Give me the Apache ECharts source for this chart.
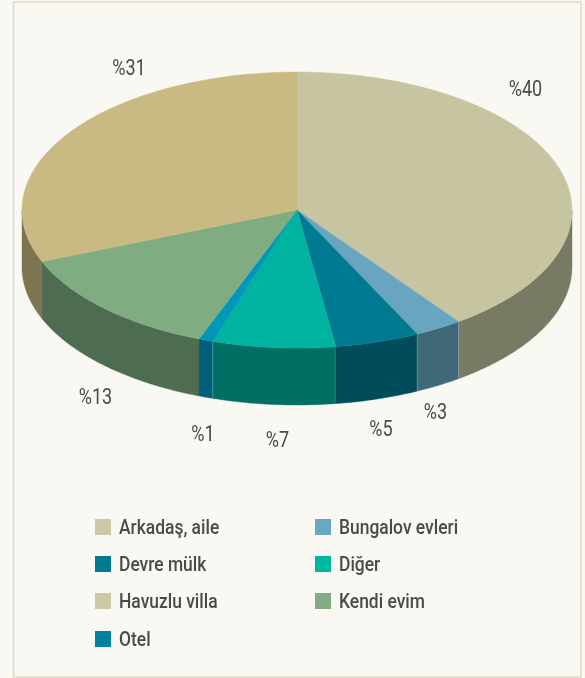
<!DOCTYPE html>
<html><head><meta charset="utf-8">
<style>html,body{margin:0;padding:0;background:#f9f8f3}#c{width:585px;height:678px}</style>
<script src="https://cdn.jsdelivr.net/npm/echarts@6/dist/echarts.min.js"></script>
</head><body><div id="c"></div>
<script>
const categories = ['Arkadaş, aile','Bungalov evleri','Devre mülk','Diğer','Otel','Kendi evim','Havuzlu villa'];
const shares = [40,2.8,4.95,7.2,0.85,13.1,31.1];
const topColors = ['#c7c4a2','#67a5c0','#007a90','#00b2a0','#0098b8','#80ac82','#c8ba82'];
const sideColors = ['#787a63','#3f6878','#004c5a','#006e62','#005f78','#4d6c50','#7d7552'];
const legendColors = ['#ccc8a6','#6aa7c2','#007a90','#00b6a2','#00829a','#80ac82','#ccc8a6'];
const seams = [1,2,4];
const labelPos = [[525.5,90],[435.5,413],[381,430],[277.5,441],[203,435],[95.5,398],[129,69]];
const legendSlots = [[95,519],[315,519],[95,556],[315,556],[95,631],[315,593],[95,593]];

const CX=297, CY=210, RX=275, RY=138, DEPTH=57;
const FONT='"Roboto",sans-serif';
const total = shares.reduce((a,b)=>a+b,0);
const pt=(deg,dy=0)=>{const r=deg*Math.PI/180;return [CX+RX*Math.sin(r),CY-RY*Math.cos(r)+dy];};
const arc=(a,b,dy=0)=>{const n=Math.max(2,Math.ceil(Math.abs(b-a)*2)),o=[];for(let i=0;i<=n;i++)o.push(pt(a+(b-a)*i/n,dy));return o;};

let cum=0;
const series = categories.map((name,i)=>{
  const start=cum/total*360; cum+=shares[i]; const end=cum/total*360;
  return {
    name, type:'custom', coordinateSystem:'none', silent:true, animation:false,
    itemStyle:{color:legendColors[i]},
    data:[[shares[i]]],
    renderItem(){
      const children=[];
      const s=Math.max(start,90), e=Math.min(end,270);
      if(e>s){
        const upper=arc(s,e), lower=arc(e,s,DEPTH);
        children.push({type:'polygon',shape:{points:upper.concat(lower)},
          style:{fill:sideColors[i],stroke:sideColors[i],lineWidth:0.4}});
      }
      children.push({type:'polygon',shape:{points:[[CX,CY]].concat(arc(start,end))},
        style:{fill:topColors[i],stroke:topColors[i],lineWidth:0.4}});
      if(seams.includes(i)){
        const a=pt(start),b=pt(start,DEPTH);
        children.push({type:'line',shape:{x1:a[0],y1:a[1],x2:b[0],y2:b[1]},
          style:{stroke:'rgba(255,255,255,0.4)',lineWidth:0.7}});
      }
      children.push({type:'text',x:labelPos[i][0],y:labelPos[i][1],scaleX:0.82,
        style:{text:'%'+Math.round(shares[i]),x:0,y:0,align:'center',verticalAlign:'middle',fill:'#4a4a4a',font:'22px '+FONT}});
      const [lx,ly]=legendSlots[i];
      children.push({type:'rect',shape:{x:lx,y:ly,width:16,height:16},style:{fill:legendColors[i]}});
      children.push({type:'text',x:lx+24,y:ly+9.5,scaleX:0.83,
        style:{text:name,x:0,y:0,align:'left',verticalAlign:'middle',fill:'#4a4a4a',font:'500 21px '+FONT}});
      return {type:'group',children};
    }
  };
});
const chart=echarts.init(document.getElementById('c'),null,{renderer:'canvas'});
chart.setOption({
  backgroundColor:'#f9f8f3',animation:false,
  graphic:[{type:'rect',silent:true,z:-1,shape:{x:13.5,y:2,width:567.5,height:675},style:{fill:'none',stroke:'#dedbc2',lineWidth:1.5}}],
  series
});
</script></body></html>
